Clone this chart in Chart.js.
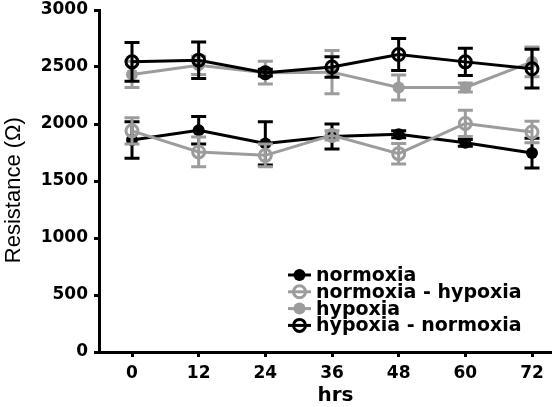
<!DOCTYPE html>
<html>
<head>
<meta charset="utf-8">
<script src="https://cdn.jsdelivr.net/npm/chart.js@4/dist/chart.umd.min.js"></script>
<style>
    body { margin: 0; background: #fff; overflow: hidden; }
    #wrap { width: 552px; height: 407px; overflow: hidden; }
</style>
</head>
<body>
<div id="wrap"><canvas id="lineChart" width="581" height="407"></canvas></div>
<script>
const hours = [0, 12, 24, 36, 48, 60, 72];
const hourTicks = [0, 12, 24, 36, 48, 60, 72];
const resistanceTicks = [0, 500, 1000, 1500, 2000, 2500, 3000];

const seriesNames = ["normoxia", "normoxia - hypoxia", "hypoxia", "hypoxia - normoxia"];
const normoxia = [1860, 1945, 1830, 1890, 1910, 1835, 1745];
const normoxiaErr = [160, 120, 190, 110, 30, 30, 130];
const normoxiaHypoxia = [1940, 1755, 1725, 1900, 1740, 2005, 1930];
const normoxiaHypoxiaErr = [115, 130, 100, 40, 90, 115, 95];
const hypoxia = [2435, 2515, 2450, 2455, 2320, 2320, 2545];
const hypoxiaErr = [115, 80, 100, 190, 110, 40, 130];
const hypoxiaNormoxia = [2545, 2560, 2450, 2500, 2610, 2545, 2485];
const hypoxiaNormoxiaErr = [170, 160, 30, 90, 140, 120, 170];

const black = "#000000";
const grey = "#9c9c9c";

function makeSet(label, values, errors, color, open, order) {
    return {
        label: label,
        data: hours.map((h, i) => ({ x: h, y: values[i] })),
        errors: errors,
        borderColor: color,
        borderWidth: 3,
        pointRadius: 6,
        pointHoverRadius: 6,
        pointBorderWidth: open ? 3 : 0,
        pointBorderColor: color,
        pointBackgroundColor: open ? "rgba(0,0,0,0)" : color,
        open: open,
        tension: 0,
        order: order,
    };
}

// error bars, drawn with each dataset so the layering follows the lines
const errorBars = {
    id: "errorBars",
    afterDatasetDraw(chart, args) {
        const ds = chart.data.datasets[args.index];
        const x = chart.scales.x, y = chart.scales.y;
        const ctx = chart.ctx;
        ctx.save();
        ctx.strokeStyle = ds.borderColor;
        ctx.lineWidth = 3;
        ds.data.forEach((p, i) => {
            const px = x.getPixelForValue(p.x);
            const top = y.getPixelForValue(p.y + ds.errors[i]);
            const bot = y.getPixelForValue(p.y - ds.errors[i]);
            ctx.beginPath();
            ctx.moveTo(px, top);
            ctx.lineTo(px, bot);
            ctx.moveTo(px - 7.5, top);
            ctx.lineTo(px + 7.5, top);
            ctx.moveTo(px - 7.5, bot);
            ctx.lineTo(px + 7.5, bot);
            ctx.stroke();
        });
        ctx.restore();
    },
};

// legend sitting inside the plot, bottom right
const insideLegend = {
    id: "insideLegend",
    afterDraw(chart) {
        const ctx = chart.ctx;
        ctx.save();
        ctx.font = "bold 19px 'DejaVu Sans'";
        ctx.textBaseline = "middle";
        ctx.textAlign = "left";
        chart.data.datasets.forEach((ds, i) => {
            const yy = 275 + i * 16.8;
            ctx.strokeStyle = ds.borderColor;
            ctx.lineWidth = 3;
            ctx.beginPath();
            ctx.moveTo(288, yy);
            ctx.lineTo(311, yy);
            ctx.stroke();
            ctx.beginPath();
            ctx.arc(299.5, yy, 6, 0, Math.PI * 2);
            if (ds.open) {
                ctx.stroke();
            } else {
                ctx.fillStyle = ds.borderColor;
                ctx.fill();
            }
            ctx.fillStyle = black;
            ctx.fillText(ds.label, 316, yy + 1);
        });
        ctx.restore();
    },
};

const ctx = document.getElementById("lineChart").getContext("2d");
new Chart(ctx, {
    type: "line",
    data: {
        datasets: [
            makeSet(seriesNames[0], normoxia, normoxiaErr, black, false, 2),
            makeSet(seriesNames[1], normoxiaHypoxia, normoxiaHypoxiaErr, grey, true, 1),
            makeSet(seriesNames[2], hypoxia, hypoxiaErr, grey, false, 3),
            makeSet(seriesNames[3], hypoxiaNormoxia, hypoxiaNormoxiaErr, black, true, 0),
        ],
    },
    options: {
        responsive: false,
        animation: false,
        layout: { padding: { top: 10, right: 0, left: 0, bottom: 0 } },
        plugins: {
            legend: { display: false },
            tooltip: { enabled: false },
        },
        scales: {
            x: {
                type: "linear",
                min: -5.94,
                max: 79.2,
                afterBuildTicks: (scale) => {
                    scale.ticks = hourTicks.map((v) => ({ value: v }));
                },
                afterFit: (scale) => {
                    scale.height = 55;
                    scale.paddingLeft = 0;
                    scale.paddingRight = 0;
                },
                border: { display: true, color: black, width: 3 },
                grid: { drawOnChartArea: false, drawTicks: true, tickLength: 5, tickWidth: 3, tickColor: black },
                ticks: {
                    color: black,
                    padding: 6,
                    callback: (v) => String(v),
                    font: { family: "'DejaVu Sans'", size: 17, weight: "bold" },
                },
                title: {
                    display: true,
                    text: "hrs",
                    color: black,
                    padding: { top: 0, bottom: 1 },
                    font: { family: "'DejaVu Sans'", size: 20, weight: "bold", lineHeight: 1 },
                },
            },
            y: {
                min: 0,
                max: 3000,
                afterBuildTicks: (scale) => {
                    scale.ticks = resistanceTicks.map((v) => ({ value: v }));
                },
                afterFit: (scale) => {
                    scale.width = 99;
                    scale.paddingTop = 0;
                    scale.paddingBottom = 0;
                },
                border: { display: true, color: black, width: 3 },
                grid: { drawOnChartArea: false, drawTicks: true, tickLength: 5, tickWidth: 3, tickColor: black },
                ticks: {
                    color: black,
                    padding: 6,
                    callback: (v) => String(v),
                    font: { family: "'DejaVu Sans'", size: 17, weight: "bold" },
                },
                title: {
                    display: true,
                    // trailing spaces nudge the rotated title down a little
                    text: "Resistance (Ω)   ",
                    color: black,
                    padding: { top: 3, bottom: 0 },
                    font: { family: "'Liberation Sans'", size: 22, lineHeight: 1 },
                },
            },
        },
    },
    plugins: [errorBars, insideLegend],
});
</script>
</body>
</html>
